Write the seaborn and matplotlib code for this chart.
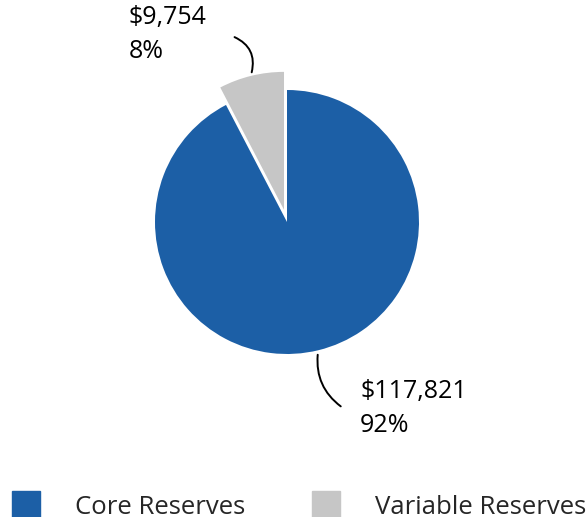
import matplotlib
matplotlib.use("Agg")
import matplotlib.pyplot as plt
import matplotlib.patches as mpatches
import seaborn as sns

categories = ["Core Reserves", "Variable Reserves"]
amounts = [117821, 9754]
percents = [92, 8]
colors = ["#1c5fa6", "#c6c6c6"]

sns.set_theme(style="white")
plt.rcParams["font.family"] = ["Open Sans", "DejaVu Sans"]

W, H, R = 587, 517, 132.0
cx, cy = 287, 222


def px(x, y):
    # pixel -> data units (pie radius = 1)
    return (x - cx) / R, (cy - y) / R


fig = plt.figure(figsize=(W / 100, H / 100), dpi=100)
ax = fig.add_axes([0, 0, 1, 1])

wedges, _ = ax.pie(amounts, colors=colors, startangle=90, counterclock=False,
                   explode=[0, 0.095], radius=1,
                   wedgeprops=dict(linewidth=0))
wedges[1].set_radius(1.045)
ax.set_xlim(-cx / R, (W - cx) / R)
ax.set_ylim(-(H - cy) / R, cy / R)
ax.axis("off")

fs = 18
# labels
ax.text(*px(129, 5), f"${amounts[1]:,}\n{percents[1]}%", fontsize=fs,
        ha="left", va="top", linespacing=1.5, color="black")
ax.text(*px(360, 379), f"${amounts[0]:,}\n{percents[0]}%", fontsize=fs,
        ha="left", va="top", linespacing=1.5, color="black")

ax.annotate("", xy=px(251, 75), xytext=px(232, 36),
            arrowprops=dict(arrowstyle="-", color="black", lw=1.4,
                            connectionstyle="arc3,rad=-0.45"))
ax.annotate("", xy=px(343, 408), xytext=px(318, 352),
            arrowprops=dict(arrowstyle="-", color="black", lw=1.4,
                            connectionstyle="arc3,rad=0.3"))

handles = [mpatches.Patch(color=c, label=l) for c, l in zip(colors, categories)]
fig.legend(handles=handles, loc="lower left", bbox_to_anchor=(12 / W, -3 / H),
           ncol=2, frameon=False, fontsize=18.5, handlelength=1.1,
           handleheight=1.3, handletextpad=1.35, columnspacing=2.6,
           borderpad=0, borderaxespad=0)

fig.savefig("out.png", dpi=100)
